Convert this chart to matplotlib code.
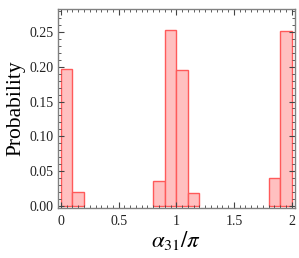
import matplotlib
matplotlib.use("Agg")
import matplotlib.pyplot as plt
from matplotlib.ticker import MultipleLocator

plt.rcParams['font.family'] = 'Liberation Serif'
plt.rcParams['mathtext.fontset'] = 'stix'

bin_left = [0.0, 0.1, 0.8, 0.9, 1.0, 1.1, 1.8, 1.9]
prob = [0.197, 0.020, 0.036, 0.253, 0.196, 0.019, 0.040, 0.251]
width = 0.1

fig = plt.figure(figsize=(2.99, 2.58), dpi=100)
ax = fig.add_axes([0.194, 0.194, 0.793, 0.771])

ax.bar(bin_left, prob, width=width, align='edge',
       color='#ffc0c0', edgecolor='#ff5a5a', linewidth=1.0)

ax.set_xlim(-0.025, 2.03)
ax.set_ylim(-0.003, 0.283)
ax.set_xticks([0, 0.5, 1, 1.5, 2])
ax.set_xticklabels(['0', '0.5', '1', '1.5', '2'])
ax.set_yticks([0, 0.05, 0.10, 0.15, 0.20, 0.25])
ax.set_yticklabels(['0.00', '0.05', '0.10', '0.15', '0.20', '0.25'])
ax.xaxis.set_minor_locator(MultipleLocator(0.05))
ax.yaxis.set_minor_locator(MultipleLocator(0.01))
ax.tick_params(which='both', direction='in', top=True, right=True,
               labelsize=10, color='#444444', labelcolor='#222222')
ax.tick_params(axis='x', pad=5)
ax.tick_params(axis='y', pad=3)
ax.tick_params(which='major', length=4, width=0.8)
ax.tick_params(which='minor', length=2, width=0.6)
for s in ax.spines.values():
    s.set_color('#808080')
    s.set_linewidth(1.0)

ax.set_ylabel('Probability', fontsize=15.5, labelpad=3)
ax.set_xlabel(r'$\alpha_{31}/\pi$', fontsize=16.5, labelpad=1)

fig.savefig('out.png', dpi=100)
